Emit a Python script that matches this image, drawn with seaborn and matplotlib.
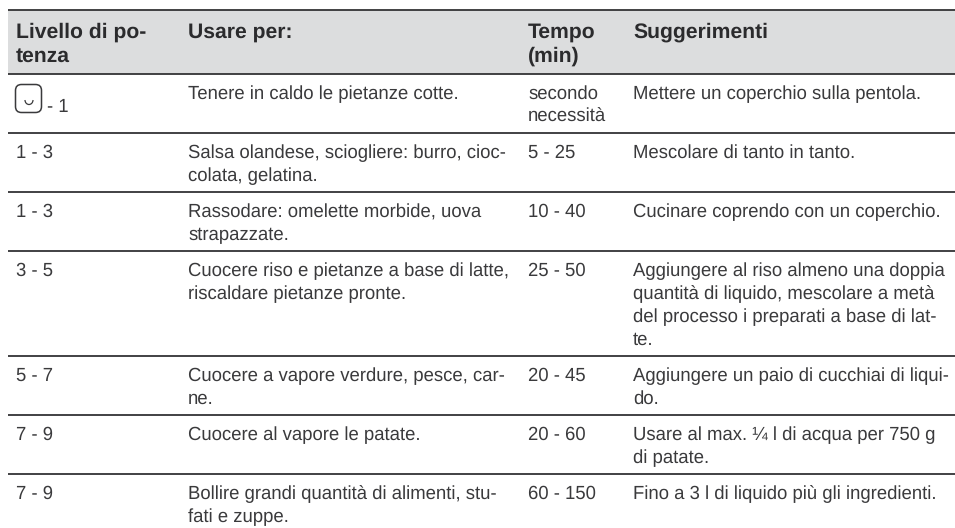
import matplotlib
matplotlib.use("Agg")
import matplotlib.pyplot as plt
from matplotlib.patches import FancyBboxPatch, Arc, Rectangle
import seaborn as sns

sns.set_theme(style="white")
plt.rcParams['font.family'] = ['Liberation Sans', 'DejaVu Sans']
plt.rcParams['text.hinting'] = 'no_hinting'
plt.rcParams['text.hinting_factor'] = 8

headers = ["Livello di po-\ntenza", "Usare per:", "Tempo\n(min)", "Suggerimenti"]
levels = ["- 1", "1 - 3", "1 - 3", "3 - 5", "5 - 7", "7 - 9", "7 - 9"]
uses = ["Tenere in caldo le pietanze cotte.",
        "Salsa olandese, sciogliere: burro, cioc-\ncolata, gelatina.",
        "Rassodare: omelette morbide, uova\nstrapazzate.",
        "Cuocere riso e pietanze a base di latte,\nriscaldare pietanze pronte.",
        "Cuocere a vapore verdure, pesce, car-\nne.",
        "Cuocere al vapore le patate.",
        "Bollire grandi quantità di alimenti, stu-\nfati e zuppe."]
times = ["secondo\nnecessità", "5 - 25", "10 - 40", "25 - 50", "20 - 45", "20 - 60", "60 - 150"]
tips = ["Mettere un coperchio sulla pentola.",
        "Mescolare di tanto in tanto.",
        "Cucinare coprendo con un coperchio.",
        "Aggiungere al riso almeno una doppia\nquantità di liquido, mescolare a metà\ndel processo i preparati a base di lat-\nte.",
        "Aggiungere un paio di cucchiai di liqui-\ndo.",
        "Usare al max. ¼ l di acqua per 750 g\ndi patate.",
        "Fino a 3 l di liquido più gli ingredienti."]

W, H = 955, 528
col_x = [16, 188, 528, 633]
LEFT, RIGHT = 8, 955
TEXT = "#3a3a3c"
RULE = "#333335"
LH = 23

fig = plt.figure(figsize=(W / 100, H / 100), dpi=100)
ax = fig.add_axes([0, 0, 1, 1])
ax.set_xlim(0, W)
ax.set_ylim(H, 0)
ax.axis("off")

top, head_bottom = 10, 74
ax.add_patch(Rectangle((LEFT, top), RIGHT - LEFT, head_bottom - top, fc="#dcddde", ec="none", zorder=0))
ax.hlines([top, head_bottom], LEFT, RIGHT, color=RULE, lw=1.3)

for x, h in zip(col_x, headers):
    ax.text(x, 22, h, fontsize=15.2, fontweight="bold", color="#2b2b2d", va="top", ha="left", linespacing=1.32)

y = head_bottom
for lv, use, tm, tip in zip(levels, uses, times, tips):
    n = max(s.count("\n") + 1 for s in (use, tm, tip))
    for x, s in zip(col_x, (lv, use, tm, tip)):
        if s == "- 1":
            continue
        ax.text(x, y + 11.5, s, fontsize=13.33, color=TEXT, va="top", ha="left", linespacing=1.37)
    y_next = y + 59 + LH * (n - 2) if n > 2 else y + 59
    ax.hlines(y_next, LEFT, RIGHT, color=RULE, lw=1.3)
    y = y_next

# standby symbol plus the first level label
ax.add_patch(FancyBboxPatch((15.5, 84.5), 26, 28, boxstyle="round,pad=0,rounding_size=6", fc="none", ec=TEXT, lw=1.1))
ax.add_patch(Arc((29, 100), 8, 9, theta1=0, theta2=180, ec=TEXT, lw=0.9))
ax.text(47, 98.5, levels[0], fontsize=13.33, color=TEXT, va="top", ha="left")

fig.savefig("out.png", dpi=100)
